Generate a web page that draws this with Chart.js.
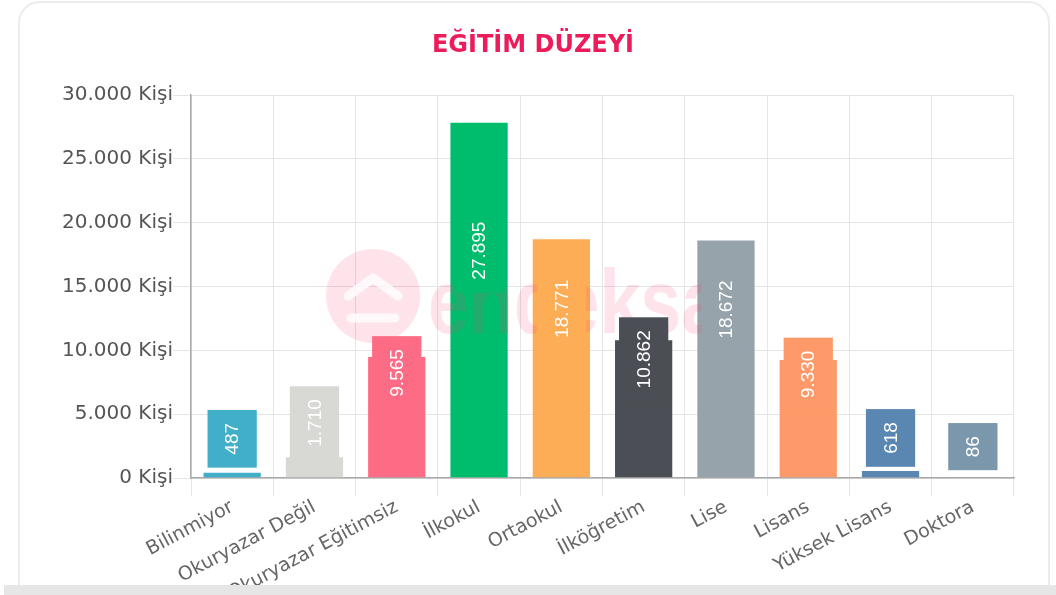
<!DOCTYPE html>
<html lang="tr">
<head>
<meta charset="utf-8">
<title>Eğitim Düzeyi</title>
<script src="https://cdn.jsdelivr.net/npm/chart.js@4.4.1/dist/chart.umd.min.js"></script>
<style>
  html, body { margin: 0; padding: 0; background: #fff; }
  body { width: 1056px; height: 595px; position: relative; overflow: hidden; }
  .card {
    position: absolute; left: 18px; top: 1px; width: 1028px; height: 640px;
    border: 2px solid #ececec; border-radius: 22px; background: #fff;
  }
  .band { position: absolute; left: 4px; top: 585px; width: 1052px; height: 10px; background: #e6e6e6; }
  .wrap { position: absolute; left: 18px; top: 0; width: 1030px; height: 595px; }
</style>
</head>
<body>
<div class="card"></div>
<div class="wrap"><canvas id="egitimChart"></canvas></div>
<div class="band"></div>
<script>
// Veriler
const categories = ['Bilinmiyor', 'Okuryazar Değil', 'Okuryazar Eğitimsiz', 'İlkokul', 'Ortaokul',
    'İlköğretim', 'Lise', 'Lisans', 'Yüksek Lisans', 'Doktora'];
const values = [487, 1710, 9565, 27895, 18771, 10862, 18672, 9330, 618, 86];
const barColors = ['#41afc8', '#d8d9d4', '#fe6b84', '#00bd6e', '#fdad56',
    '#4b4f55', '#97a3ab', '#fe9a69', '#5a86b2', '#7b97ab'];
const yMax = 30000;
const yStep = 5000;

// 30000 -> "30.000"
const fmt = v => String(v).replace(/\B(?=(\d{3})+(?!\d))/g, '.');

// Değer etiketleri + filigran
const labelPlugin = {
    id: 'valueBoxes',
    afterDatasetsDraw(chart) {
        const ctx = chart.ctx;
        ctx.save();

        // endeksa filigranı
        ctx.fillStyle = 'rgba(250, 60, 110, 0.14)';
        ctx.beginPath();
        ctx.arc(355, 296, 47, 0, Math.PI * 2);
        ctx.fill();
        ctx.strokeStyle = 'rgba(255, 255, 255, 0.8)';
        ctx.lineWidth = 9;
        ctx.lineCap = 'round';
        ctx.beginPath();
        ctx.moveTo(330, 296); ctx.lineTo(355, 278); ctx.lineTo(380, 296);
        ctx.moveTo(333, 318); ctx.lineTo(377, 318);
        ctx.stroke();
        ctx.font = 'bold 90px "Liberation Sans", Arial, sans-serif';
        ctx.textBaseline = 'alphabetic';
        ctx.textAlign = 'left';
        ctx.fillText('endeksa', 410, 333, 294);

        // etiket kutuları
        const meta = chart.getDatasetMeta(0);
        ctx.font = '19px "Liberation Sans", Arial, sans-serif';
        meta.data.forEach((bar, i) => {
            const p = bar.getProps(['x', 'y', 'base', 'width'], true);
            const text = fmt(values[i]);
            const tw = ctx.measureText(text).width;
            const h = tw + 26;
            const w = p.width - 10;
            const bottom = (p.y + p.base) / 2 - 7;
            ctx.fillStyle = barColors[i];
            ctx.fillRect(p.x - w / 2, bottom - h, w, h);
            ctx.save();
            ctx.translate(p.x, bottom - h / 2);
            ctx.rotate(-Math.PI / 2);
            ctx.fillStyle = '#fff';
            ctx.textAlign = 'center';
            ctx.textBaseline = 'middle';
            ctx.fillText(text, 0, 1);
            ctx.restore();
        });
        ctx.restore();
    }
};

const ctx = document.getElementById('egitimChart').getContext('2d');
new Chart(ctx, {
    type: 'bar',
    data: {
        labels: categories,
        datasets: [{
            label: 'Eğitim Düzeyi',
            data: values,
            backgroundColor: barColors,
            borderColor: 'rgba(255, 255, 255, 0.3)',
            borderWidth: 1
        }]
    },
    options: {
        responsive: true,
        maintainAspectRatio: false,
        animation: false,
        layout: { padding: { left: 34, right: 34, top: 0, bottom: 0 } },
        plugins: {
            legend: { display: false },
            tooltip: { enabled: false },
            title: {
                display: true,
                text: 'EĞİTİM DÜZEYİ',
                color: '#ec1b5a',
                font: { family: '"DejaVu Sans", sans-serif', size: 24, weight: 'bold' },
                padding: { top: 31, bottom: 35.2 }
            }
        },
        scales: {
            x: {
                grid: { color: '#e4e4e4', tickLength: 18, offset: true },
                border: { color: '#aaa', width: 1.5 },
                ticks: {
                    color: '#666',
                    font: { family: '"DejaVu Sans", sans-serif', size: 19 },
                    minRotation: 28,
                    maxRotation: 28,
                    autoSkip: false,
                    padding: 0
                },
                afterFit(scale) { scale.height = 117; }
            },
            y: {
                min: 0,
                max: yMax,
                grid: { color: '#e4e4e4', tickLength: 18 },
                border: { color: '#aaa', width: 1.5 },
                ticks: {
                    stepSize: yStep,
                    color: '#555',
                    padding: 0,
                    font: { family: '"DejaVu Sans", sans-serif', size: 20 },
                    callback: v => fmt(v) + ' Kişi'
                },
                afterFit(scale) { scale.width = 139; }
            }
        }
    },
    plugins: [labelPlugin]
});
</script>
</body>
</html>
